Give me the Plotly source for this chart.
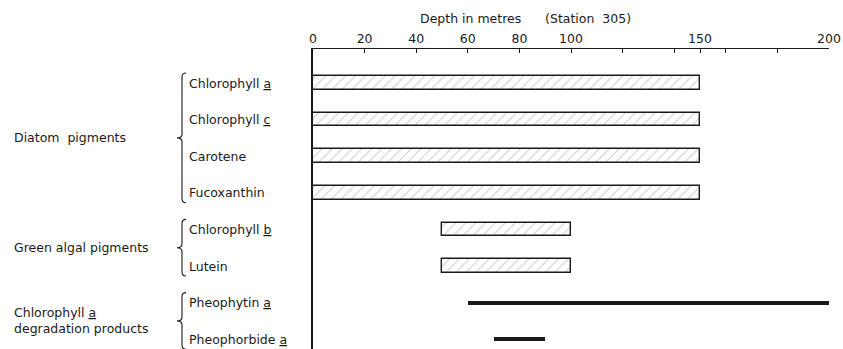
import plotly.graph_objects as go

# ---- data ----
pigments = ["Chlorophyll <u>a</u>", "Chlorophyll <u>c</u>", "Carotene", "Fucoxanthin",
            "Chlorophyll <u>b</u>", "Lutein", "Pheophytin <u>a</u>", "Pheophorbide <u>a</u>"]
depth_start = [0, 0, 0, 0, 50, 50, 60, 70]
depth_end = [150, 150, 150, 150, 100, 100, 200, 90]
kind = ["hatched"] * 6 + ["solid"] * 2
groups = ["Diatom&nbsp;&nbsp;pigments", "Green algal pigments",
          "Chlorophyll <u>a</u><br>degradation products"]
group_members = [[0, 1, 2, 3], [4, 5], [6, 7]]
tick_values = [0, 20, 40, 60, 80, 100, 120, 140, 150, 160, 180, 200]
tick_labels = ["0", "20", "40", "60", "80", "100", "", "", "150", "", "", "200"]

W, H = 843, 349
L, R, T, B = 313, 14, 49, 0
PW, PH = W - L - R, H - T - B
FONT = "DejaVu Sans, Verdana, sans-serif"
INK = "#1a1a1a"
FS = 12.5

def px(xp):
    return (xp - L) / PW

def py(yp):
    return (H - B - yp) / PH

fig = go.Figure()

hx = [i for i, k in enumerate(kind) if k == "hatched"]
sx = [i for i, k in enumerate(kind) if k == "solid"]

fig.add_trace(go.Bar(
    orientation="h",
    y=[pigments[i] for i in hx],
    base=[depth_start[i] for i in hx],
    x=[depth_end[i] - depth_start[i] for i in hx],
    width=0.37,
    marker=dict(color="white",
                pattern=dict(shape="/", fgcolor="#9a9a9a", bgcolor="white", size=7, solidity=0.15),
                line=dict(color=INK, width=1.4)),
    showlegend=False,
))
fig.add_trace(go.Bar(
    orientation="h",
    y=[pigments[i] for i in sx],
    base=[depth_start[i] for i in sx],
    x=[depth_end[i] - depth_start[i] for i in sx],
    width=0.11,
    marker=dict(color=INK, line=dict(width=0)),
    showlegend=False,
))

# row index -> pixel: row0 + step*i
row0, step = 83, 36.6
ytop_idx = (T - row0) / step
ybot_idx = (H - B - row0) / step

fig.update_layout(
    width=W, height=H,
    margin=dict(l=L, r=R, t=T, b=B, autoexpand=False),
    paper_bgcolor="white", plot_bgcolor="white",
    font=dict(family=FONT, size=FS, color=INK),
    bargap=0,
    xaxis=dict(side="top", range=[0, 200], tickvals=tick_values, ticktext=tick_labels,
               ticks="inside", ticklen=4, tickcolor=INK, showline=True, linecolor=INK,
               linewidth=1.3, showgrid=False, zeroline=False, tickfont=dict(size=FS),
               automargin=False),
    yaxis=dict(type="category", categoryorder="array", categoryarray=pigments,
               range=[ybot_idx, ytop_idx], showticklabels=False, ticks="",
               showline=True, linecolor=INK, linewidth=1.5, showgrid=False, zeroline=False,
               automargin=False),
)

# pigment labels (left aligned)
for p in pigments:
    fig.add_annotation(x=px(187), xref="paper", y=p, yref="y", text=p, showarrow=False,
                       xanchor="left", yanchor="middle", font=dict(size=FS))

# braces
def brace(yt, yb, ym, x1=186, x0=182, xt=177, r=4):
    pts = (f"M {px(x1)},{py(yt)} Q {px(x0)},{py(yt)} {px(x0)},{py(yt + r)} "
           f"L {px(x0)},{py(ym - r)} Q {px(x0)},{py(ym)} {px(xt)},{py(ym)} "
           f"Q {px(x0)},{py(ym)} {px(x0)},{py(ym + r)} "
           f"L {px(x0)},{py(yb - r)} Q {px(x0)},{py(yb)} {px(x1)},{py(yb)}")
    fig.add_shape(type="path", path=pts, xref="paper", yref="paper",
                  line=dict(color=INK, width=1.1))

def row_px(i):
    return row0 + step * i

for gi, mem in enumerate(group_members):
    yt = row_px(mem[0]) - 10
    yb = row_px(mem[-1]) + 10
    ym = (yt + yb) / 2
    brace(yt, yb, ym)
    fig.add_annotation(x=px(12), xref="paper", y=py(ym), yref="paper", text=groups[gi],
                       showarrow=False, xanchor="left", yanchor="middle", align="left",
                       font=dict(size=FS))

fig.add_annotation(x=px(525), xref="paper", y=py(19), yref="paper",
                   text="Depth in metres&nbsp;&nbsp;&nbsp;&nbsp;&nbsp;&nbsp;(Station&nbsp;&nbsp;305)",
                   showarrow=False, xanchor="center", yanchor="middle", font=dict(size=FS))

fig.write_html("out.html", config={"displayModeBar": False},
               post_script="document.body.style.margin='0';")
